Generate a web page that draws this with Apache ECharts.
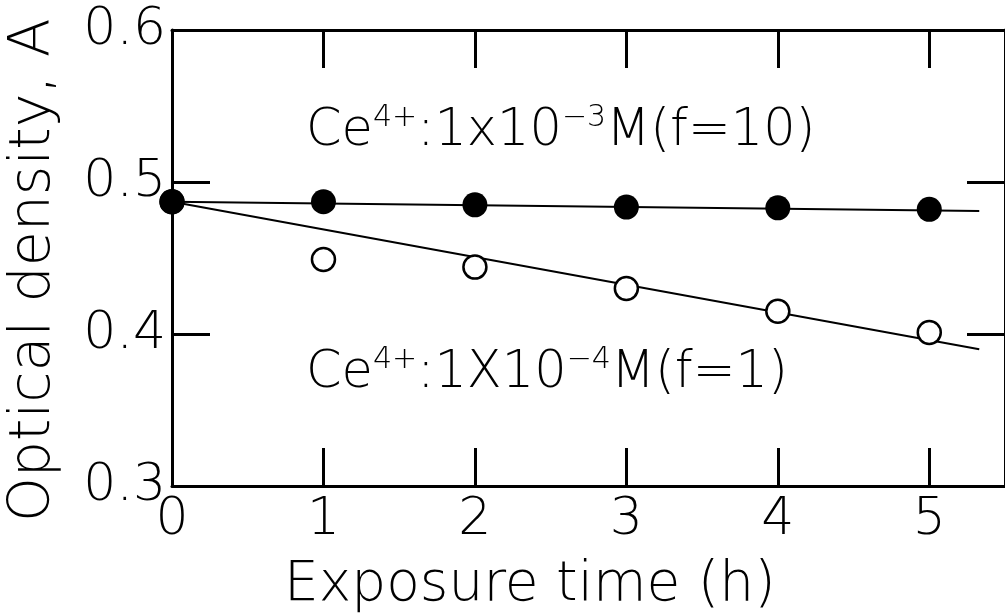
<!DOCTYPE html>
<html>
<head>
<meta charset="UTF-8" />
<title>Optical density vs exposure time</title>
<script src="https://cdn.jsdelivr.net/npm/echarts@6/dist/echarts.min.js"></script>
<style>
  html, body { margin: 0; padding: 0; background: #fff; }
  #main { width: 1005px; height: 613px; }
</style>
</head>
<body>
<div id="main"></div>
<script>
  // exposure time (h)
  const hours = [0, 1, 2, 3, 4, 5];
  // Ce4+ 1x10^-3 M (f=10), filled circles
  const highCe = [0.487, 0.487, 0.485, 0.4835, 0.483, 0.482];
  // Ce4+ 1x10^-4 M (f=1), open circles
  const lowCe = [0.487, 0.449, 0.444, 0.430, 0.415, 0.401];
  // drawn fit lines (end points)
  const fitX = [0, 5.33];
  const highFit = [0.487, 0.481];
  const lowFit = [0.487, 0.390];

  const font = 'DejaVu Sans';
  const chart = echarts.init(document.getElementById('main'));

  const pairs = (xs, ys) => xs.map((x, i) => [x, ys[i]]);
  const lbl = { fontFamily: font, fontWeight: 200, fontSize: 52, color: '#000' };
  const line = { onZero: false, lineStyle: { color: '#000', width: 3 } };
  const tick = { inside: true, length: 38, lineStyle: { color: '#000', width: 3 } };
  const rich = {
    a: { fontFamily: font, fontWeight: 200, fontSize: 51, lineHeight: 58, fill: '#000' },
    s: { fontFamily: font, fontWeight: 200, fontSize: 30, lineHeight: 58, verticalAlign: 'top', fill: '#000' }
  };

  chart.setOption({
    backgroundColor: '#fff',
    animation: false,
    grid: { left: 172, top: 30, width: 836, height: 456 },
    xAxis: [{
      type: 'value', min: 0, max: 5.5, interval: 1,
      axisLine: line, axisTick: tick,
      axisLabel: Object.assign({ margin: 8, showMaxLabel: false }, lbl),
      splitLine: { show: false }
    }, {
      type: 'value', position: 'top', min: 0, max: 5.5, interval: 1,
      axisLine: line, axisTick: tick,
      axisLabel: { show: false },
      splitLine: { show: false }
    }],
    yAxis: [{
      type: 'value', min: 0.3, max: 0.6, interval: 0.1,
      axisLine: line, axisTick: tick,
      axisLabel: Object.assign({ margin: 6, formatter: v => v.toFixed(1) }, lbl),
      splitLine: { show: false }
    }, {
      type: 'value', position: 'right', min: 0.3, max: 0.6, interval: 0.1,
      axisLine: line, axisTick: tick,
      axisLabel: { show: false },
      splitLine: { show: false }
    }],
    graphic: [
      {
        type: 'text', left: 284, top: 558,
        style: { text: 'Exposure time (h)', font: '200 55px "DejaVu Sans"', fill: '#000' }
      },
      {
        type: 'text', x: 6, y: 522, rotation: Math.PI / 2,
        style: { text: 'Optical density, A', font: '200 57px "DejaVu Sans"', fill: '#000' }
      },
      {
        type: 'text', left: 306, top: 103,
        style: { text: '{a|Ce}{s|4+}{a|:1x10}{s|−3}{a|M(f=10)}', rich: rich }
      },
      {
        type: 'text', left: 306, top: 345,
        style: { text: '{a|Ce}{s|4+}{a|:1X10}{s|−4}{a|M(f=1)}', rich: rich }
      }
    ],
    series: [
      {
        type: 'line', data: pairs(fitX, highFit), symbol: 'none',
        lineStyle: { color: '#000', width: 2 }, z: 2
      },
      {
        type: 'line', data: pairs(fitX, lowFit), symbol: 'none',
        lineStyle: { color: '#000', width: 2 }, z: 2
      },
      {
        type: 'scatter', data: pairs(hours, lowCe), symbolSize: 23,
        itemStyle: { color: '#fff', borderColor: '#000', borderWidth: 2.5, opacity: 1 }, z: 3
      },
      {
        type: 'scatter', data: pairs(hours, highCe), symbolSize: 25,
        itemStyle: { color: '#000', opacity: 1 }, z: 4
      }
    ]
  });
</script>
</body>
</html>
